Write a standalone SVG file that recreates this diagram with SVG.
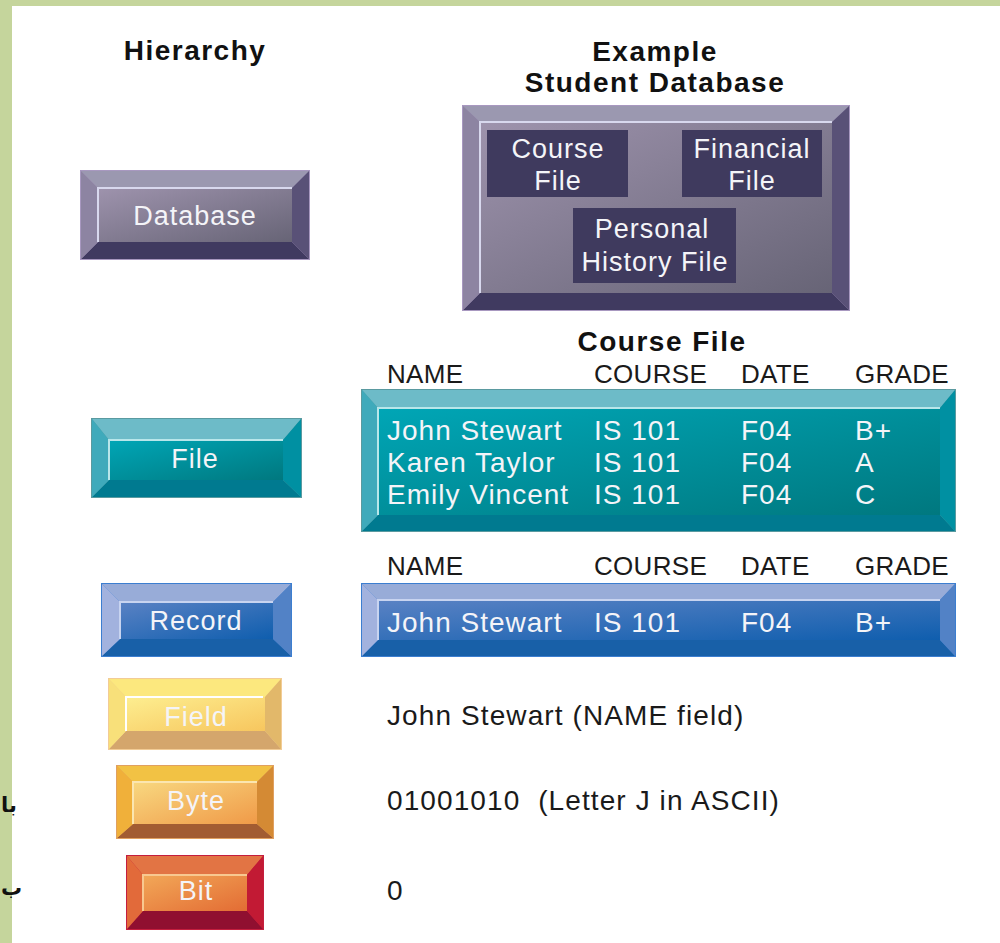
<svg xmlns="http://www.w3.org/2000/svg" width="1000" height="943" viewBox="0 0 1000 943">
<defs>
<style>
.t{font-family:"Liberation Sans",Arial,sans-serif;font-size:28px;fill:#1a1a1a;letter-spacing:1.1px}
.hd{font-family:"Liberation Sans",Arial,sans-serif;font-size:26px;fill:#1a1a1a;letter-spacing:0.3px}
.w{font-family:"Liberation Sans",Arial,sans-serif;font-size:27px;fill:#f4f4f8;letter-spacing:1px}
.r{font-family:"Liberation Sans",Arial,sans-serif;font-size:28px;fill:#f4f4f8;letter-spacing:1px}
.h{font-family:"Liberation Sans",Arial,sans-serif;font-size:28px;font-weight:700;fill:#111;letter-spacing:1.5px;text-anchor:middle}
.c{text-anchor:middle}
.hl{fill:none;stroke-width:2}
.ar{font-family:"DejaVu Sans",sans-serif;font-size:21px;font-weight:700;fill:#111}
</style>
<linearGradient id="gP" x1="0" y1="0" x2="1" y2="1"><stop offset="0" stop-color="#9e93ad"/><stop offset="1" stop-color="#676476"/></linearGradient>
<linearGradient id="gT" x1="0" y1="0" x2="1" y2="1"><stop offset="0" stop-color="#00a6b6"/><stop offset="1" stop-color="#00787f"/></linearGradient>
<linearGradient id="gB" x1="0" y1="0" x2="1" y2="1"><stop offset="0" stop-color="#5a82c4"/><stop offset="1" stop-color="#0f5eae"/></linearGradient>
<linearGradient id="gY" x1="0" y1="0" x2="1" y2="1"><stop offset="0" stop-color="#fdee90"/><stop offset="1" stop-color="#f7c65e"/></linearGradient>
<linearGradient id="gO" x1="0" y1="0" x2="1" y2="1"><stop offset="0" stop-color="#f8d880"/><stop offset="1" stop-color="#f09a48"/></linearGradient>
<linearGradient id="gR" x1="0" y1="0" x2="1" y2="1"><stop offset="0" stop-color="#f2a858"/><stop offset="1" stop-color="#e36c34"/></linearGradient>
</defs>
<rect width="1000" height="943" fill="#ffffff"/>
<rect x="0" y="0" width="1000" height="6" fill="#c5d59c"/>
<rect x="0" y="0" width="12" height="943" fill="#c5d59c"/>
<text class="ar" x="1" y="812">با</text>
<text class="ar" x="1" y="895">ب</text>

<text class="h" x="195" y="60">Hierarchy</text>
<text class="h" x="655" y="61">Example</text>
<text class="h" x="655" y="92">Student Database</text>

<g id="connectors"/>

<g id="database">
<rect x="80" y="170" width="230" height="90" fill="#a898c0"/>
<polygon points="81,171 309,171 292,188 98,188" fill="#9b98b0"/>
<polygon points="81,259 98,242 292,242 309,259" fill="#403a60"/>
<polygon points="81,171 98,188 98,242 81,259" fill="#8d84a2"/>
<polygon points="309,171 309,259 292,242 292,188" fill="#595177"/>
<rect x="98" y="188" width="194" height="54" fill="url(#gP)"/>
<polyline class="hl" points="98,242 98,188 292,188" stroke="#d8d8ee"/>
<text class="w c" x="195" y="225">Database</text>
</g>

<g id="student-database">
<rect x="462" y="105" width="388" height="206" fill="#a898c0"/>
<polygon points="463,106 849,106 832,122 480,122" fill="#9b98b0"/>
<polygon points="463,310 480,293 832,293 849,310" fill="#403a60"/>
<polygon points="463,106 480,122 480,293 463,310" fill="#8d84a2"/>
<polygon points="849,106 849,310 832,293 832,122" fill="#595177"/>
<rect x="480" y="122" width="352" height="171" fill="url(#gP)"/>
<polyline class="hl" points="480,293 480,122 832,122" stroke="#d8d8ee"/>
<rect x="487" y="130" width="141" height="67" fill="#3f3a5e"/>
<rect x="682" y="130" width="140" height="67" fill="#3f3a5e"/>
<rect x="573" y="208" width="163" height="75" fill="#3f3a5e"/>
<text class="w c" x="558" y="158">Course</text>
<text class="w c" x="558" y="190">File</text>
<text class="w c" x="752" y="158">Financial</text>
<text class="w c" x="752" y="190">File</text>
<text class="w c" x="652" y="238">Personal</text>
<text class="w c" x="655" y="271">History File</text>
</g>

<g id="file">
<rect x="91" y="418" width="211" height="80" fill="#5a9aa0"/>
<polygon points="92,419 301,419 283,440 109,440" fill="#6dbbc8"/>
<polygon points="92,497 109,480 283,480 301,497" fill="#007a90"/>
<polygon points="92,419 109,440 109,480 92,497" fill="#3faabb"/>
<polygon points="301,419 301,497 283,480 283,440" fill="#0090a2"/>
<rect x="109" y="440" width="174" height="40" fill="url(#gT)"/>
<polyline class="hl" points="109,480 109,440 283,440" stroke="#b8e6ea"/>
<text class="w c" x="195" y="468">File</text>
</g>

<g id="record">
<rect x="101" y="583" width="191" height="74" fill="#3c7ed0"/>
<polygon points="102,584 291,584 273,602 120,602" fill="#98acd8"/>
<polygon points="102,656 120,639 273,639 291,656" fill="#1860a8"/>
<polygon points="102,584 120,602 120,639 102,656" fill="#a2b2de"/>
<polygon points="291,584 291,656 273,639 273,602" fill="#5282c6"/>
<rect x="120" y="602" width="153" height="37" fill="url(#gB)"/>
<polyline class="hl" points="120,639 120,602 273,602" stroke="#c8d4f0"/>
<text class="w c" x="196" y="630">Record</text>
</g>

<g id="field">
<rect x="108" y="678" width="174" height="72" fill="#f2cc96"/>
<polygon points="109,679 281,679 265,697 126,697" fill="#fce87e"/>
<polygon points="109,749 126,731 265,731 281,749" fill="#d4a66c"/>
<polygon points="109,679 126,697 126,731 109,749" fill="#f8e07a"/>
<polygon points="281,679 281,749 265,731 265,697" fill="#e2b86a"/>
<rect x="126" y="697" width="139" height="34" fill="url(#gY)"/>
<polyline class="hl" points="126,731 126,697 263,697" stroke="#ffffff" stroke-width="3"/>
<text class="w c" x="196" y="726">Field</text>
</g>

<g id="byte">
<rect x="116" y="765" width="158" height="74" fill="#e0a060"/>
<polygon points="117,766 273,766 257,782 133,782" fill="#f2c244"/>
<polygon points="117,838 133,824 257,824 273,838" fill="#a25c32"/>
<polygon points="117,766 133,782 133,824 117,838" fill="#f0b03a"/>
<polygon points="273,766 273,838 257,824 257,782" fill="#d48a34"/>
<rect x="133" y="782" width="124" height="42" fill="url(#gO)"/>
<polyline class="hl" points="133,824 133,782 257,782" stroke="#fbe6b0"/>
<text class="w c" x="196" y="810">Byte</text>
</g>

<g id="bit">
<rect x="126" y="855" width="138" height="75" fill="#c41e3e"/>
<polygon points="127,856 263,856 247,875 143,875" fill="#e27444"/>
<polygon points="127,929 143,911 247,911 263,929" fill="#900f30"/>
<polygon points="127,856 143,875 143,911 127,929" fill="#e26a3a"/>
<polygon points="263,856 263,929 247,911 247,875" fill="#c21a34"/>
<rect x="143" y="875" width="104" height="36" fill="url(#gR)"/>
<polyline class="hl" points="143,911 143,875 247,875" stroke="#f8c890"/>
<text class="w c" x="196" y="900">Bit</text>
</g>

<text class="h" x="662" y="351">Course File</text>
<g id="file-headers">
<text class="hd" x="387" y="383">NAME</text>
<text class="hd" x="594" y="383">COURSE</text>
<text class="hd" x="741" y="383">DATE</text>
<text class="hd" x="855" y="383">GRADE</text>
</g>

<g id="course-file-table">
<rect x="361" y="389" width="595" height="143" fill="#5a9aa0"/>
<polygon points="362,390 955,390 940,408 378,408" fill="#6dbbc8"/>
<polygon points="362,531 378,515 940,515 955,531" fill="#007a90"/>
<polygon points="362,390 378,408 378,515 362,531" fill="#3faabb"/>
<polygon points="955,390 955,531 940,515 940,408" fill="#0090a2"/>
<rect x="378" y="408" width="562" height="107" fill="url(#gT)"/>
<polyline class="hl" points="378,515 378,408 940,408" stroke="#b8e6ea"/>
<text class="r" x="387" y="440">John Stewart</text>
<text class="r" x="594" y="440">IS 101</text>
<text class="r" x="741" y="440">F04</text>
<text class="r" x="855" y="440">B+</text>
<text class="r" x="387" y="472">Karen Taylor</text>
<text class="r" x="594" y="472">IS 101</text>
<text class="r" x="741" y="472">F04</text>
<text class="r" x="855" y="472">A</text>
<text class="r" x="387" y="504">Emily Vincent</text>
<text class="r" x="594" y="504">IS 101</text>
<text class="r" x="741" y="504">F04</text>
<text class="r" x="855" y="504">C</text>
</g>

<g id="record-headers">
<text class="hd" x="387" y="575">NAME</text>
<text class="hd" x="594" y="575">COURSE</text>
<text class="hd" x="741" y="575">DATE</text>
<text class="hd" x="855" y="575">GRADE</text>
</g>

<g id="record-table">
<rect x="361" y="583" width="595" height="74" fill="#3c7ed0"/>
<polygon points="362,584 955,584 940,600 378,600" fill="#98acd8"/>
<polygon points="362,656 378,640 940,640 955,656" fill="#1860a8"/>
<polygon points="362,584 378,600 378,640 362,656" fill="#a2b2de"/>
<polygon points="955,584 955,656 940,640 940,600" fill="#5282c6"/>
<rect x="378" y="600" width="562" height="40" fill="url(#gB)"/>
<polyline class="hl" points="378,640 378,600 940,600" stroke="#c8d4f0"/>
<text class="r" x="387" y="632">John Stewart</text>
<text class="r" x="594" y="632">IS 101</text>
<text class="r" x="741" y="632">F04</text>
<text class="r" x="855" y="632">B+</text>
</g>

<g id="examples">
<text class="t" x="387" y="725">John Stewart (NAME field)</text>
<text class="t" x="387" y="810" xml:space="preserve">01001010  (Letter J in ASCII)</text>
<text class="t" x="387" y="900">0</text>
</g>
</svg>
